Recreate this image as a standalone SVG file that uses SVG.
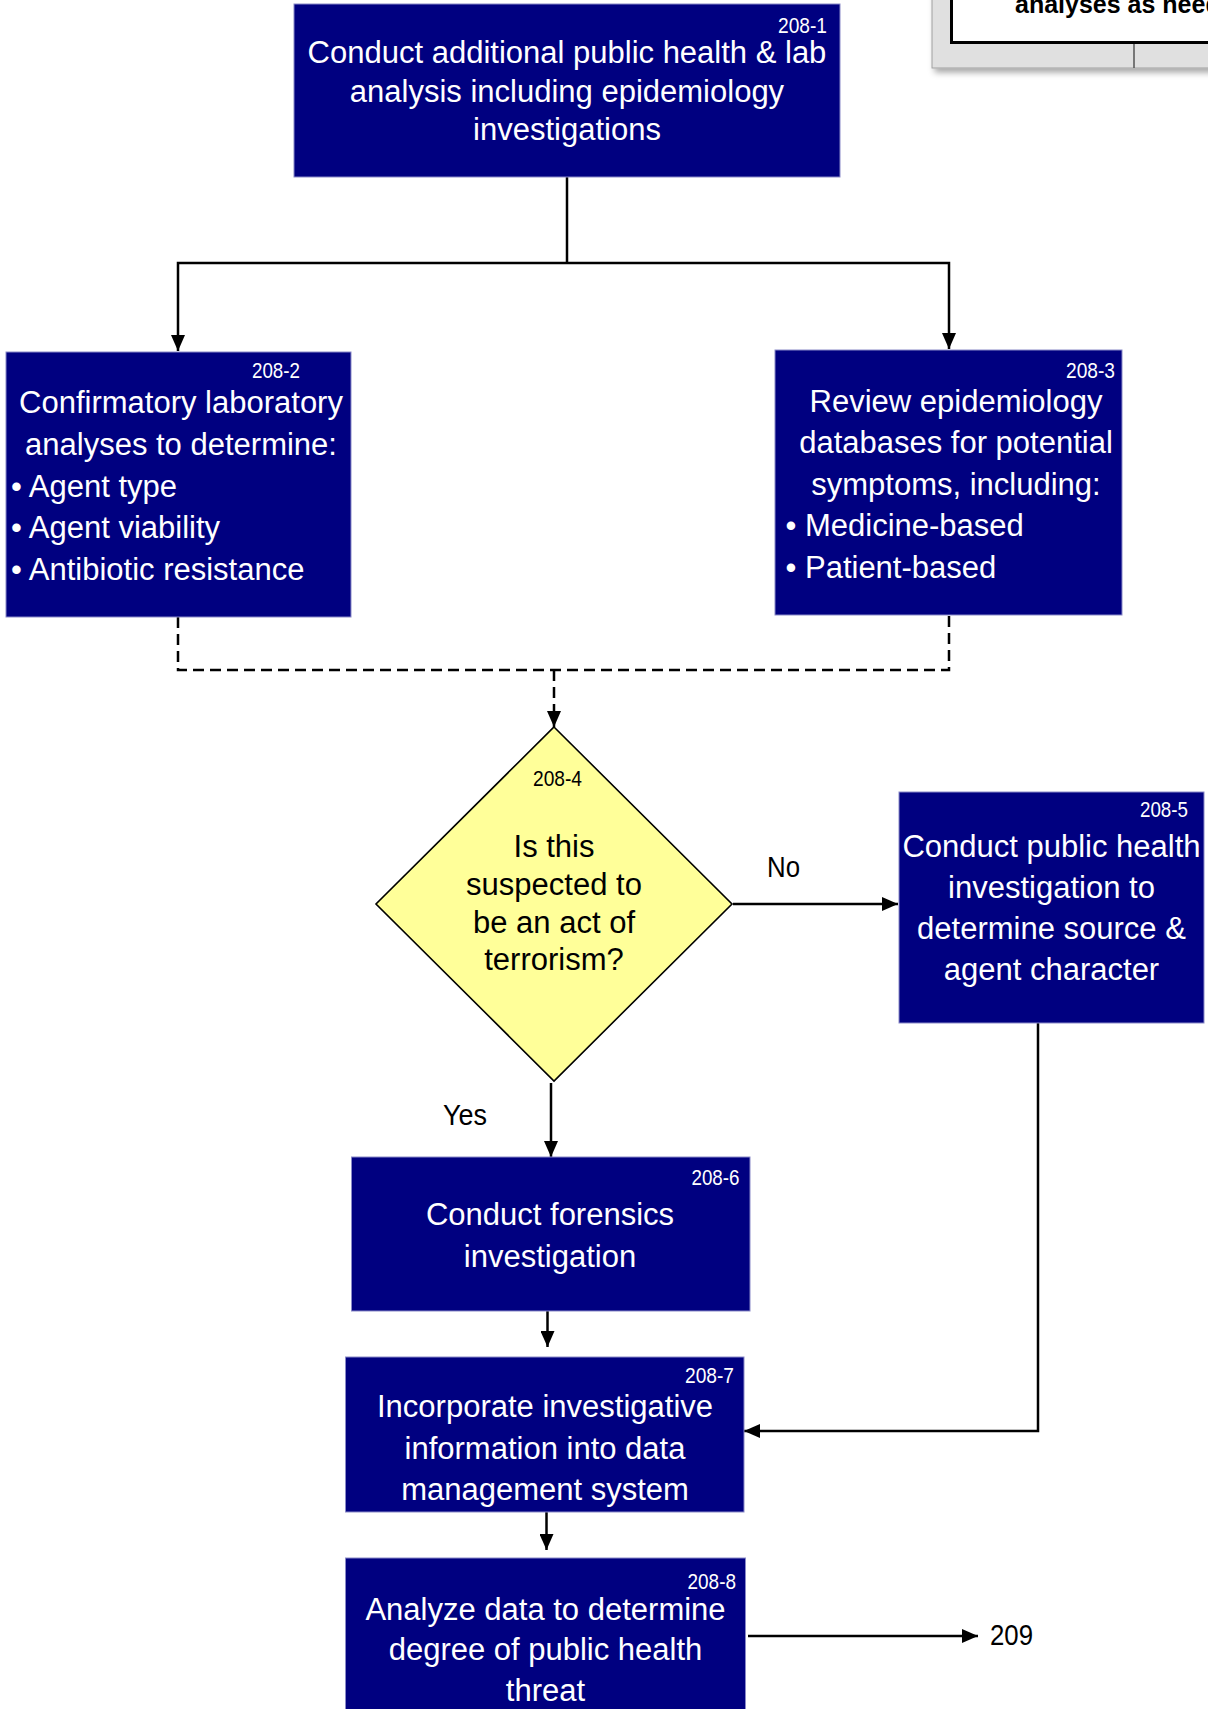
<svg xmlns="http://www.w3.org/2000/svg" width="1208" height="1709" viewBox="0 0 1208 1709">
  <defs>
    <style>
      .box { fill: #000080; stroke: #8a8ac8; stroke-width: 1; }
      .dia { fill: #ffff99; stroke: #000000; stroke-width: 1.6; }
      .t { font-family: "Liberation Sans", Arial, sans-serif; font-size: 31px; fill: #ffffff; }
      .num { font-family: "Liberation Sans Narrow", "Liberation Sans", Arial, sans-serif; font-size: 22px; fill: #ffffff; }
      .lbl { font-family: "Liberation Sans Narrow", "Liberation Sans", Arial, sans-serif; font-size: 30px; fill: #000000; }
      .c { text-anchor: middle; }
      .dark { fill: #000000; }
      .ln { fill: none; stroke: #000000; stroke-width: 2.5; }
      .dash { stroke-dasharray: 11 6; }
    </style>
    <marker id="arrow" markerUnits="userSpaceOnUse" markerWidth="16" markerHeight="14" refX="16" refY="7" orient="auto">
      <path d="M0,0 L16,7 L0,14 Z" fill="#000000"/>
    </marker>
    <filter id="shadow" x="-10%" y="-20%" width="130%" height="160%">
      <feDropShadow dx="3" dy="4" stdDeviation="3" flood-color="#000000" flood-opacity="0.35"/>
    </filter>
  </defs>

  <rect width="1208" height="1709" fill="#ffffff"/>

  <!-- partial panel at the top right edge -->
  <g id="side-panel">
    <rect x="932" y="-20" width="290" height="88" fill="#e0e0e0" stroke="#a0a0a0" stroke-width="1" filter="url(#shadow)"/>
    <rect x="951.5" y="-20" width="270" height="62.5" fill="#ffffff" stroke="#000000" stroke-width="3"/>
    <line x1="1134" y1="44" x2="1134" y2="68" stroke="#555555" stroke-width="1.5"/>
    <text x="1015" y="13" font-family="Liberation Sans, Arial, sans-serif" font-size="25" font-weight="bold" fill="#000000">analyses as needed</text>
  </g>

  <!-- connectors -->
  <g id="connectors">
    <path class="ln" d="M567,177 V263"/>
    <path class="ln" d="M567,263 H178 V351" marker-end="url(#arrow)"/>
    <path class="ln" d="M567,263 H949 V349" marker-end="url(#arrow)"/>
    <path class="ln dash" d="M178,617 V670 H949 V615"/>
    <path class="ln dash" d="M554,670 V727" marker-end="url(#arrow)"/>
    <path class="ln" d="M733,904 H898" marker-end="url(#arrow)"/>
    <path class="ln" d="M551,1083 V1157" marker-end="url(#arrow)"/>
    <path class="ln" d="M547.5,1311 V1347" marker-end="url(#arrow)"/>
    <path class="ln" d="M1038,1023 V1431 H744" marker-end="url(#arrow)"/>
    <path class="ln" d="M546.5,1512 V1550" marker-end="url(#arrow)"/>
    <path class="ln" d="M748,1636 H978" marker-end="url(#arrow)"/>
    <text class="lbl" x="767" y="877" textLength="33" lengthAdjust="spacingAndGlyphs">No</text>
    <text class="lbl" x="443" y="1125" textLength="44" lengthAdjust="spacingAndGlyphs">Yes</text>
    <text class="lbl" x="990" y="1645" textLength="43" lengthAdjust="spacingAndGlyphs">209</text>
  </g>

  <g id="n208-1">
    <rect class="box" x="294" y="4" width="546" height="173"/>
    <text class="num" x="778" y="33" textLength="49" lengthAdjust="spacingAndGlyphs">208-1</text>
    <text class="t c" x="567" y="63">Conduct additional public health &amp; lab</text>
    <text class="t c" x="567" y="101.5">analysis including epidemiology</text>
    <text class="t c" x="567" y="140">investigations</text>
  </g>

  <g id="n208-2">
    <rect class="box" x="6" y="352" width="345" height="265"/>
    <text class="num" x="252" y="378" textLength="48" lengthAdjust="spacingAndGlyphs">208-2</text>
    <text class="t c" x="181" y="413">Confirmatory laboratory</text>
    <text class="t c" x="181" y="455">analyses to determine:</text>
    <text class="t" x="11" y="497">• Agent type</text>
    <text class="t" x="11" y="538">• Agent viability</text>
    <text class="t" x="11" y="580">• Antibiotic resistance</text>
  </g>

  <g id="n208-3">
    <rect class="box" x="775" y="350" width="347" height="265"/>
    <text class="num" x="1066" y="378" textLength="49" lengthAdjust="spacingAndGlyphs">208-3</text>
    <text class="t c" x="956" y="412">Review epidemiology</text>
    <text class="t c" x="956" y="453">databases for potential</text>
    <text class="t c" x="956" y="495">symptoms, including:</text>
    <text class="t" x="785.5" y="536">• Medicine-based</text>
    <text class="t" x="785.5" y="578">• Patient-based</text>
  </g>

  <g id="n208-4">
    <polygon class="dia" points="554,727 732,904 554,1081 376,904"/>
    <text class="num c" x="557.5" y="786" fill="#000000" style="fill:#000000" textLength="49" lengthAdjust="spacingAndGlyphs">208-4</text>
    <text class="t c dark" x="554" y="857" style="fill:#000000">Is this</text>
    <text class="t c dark" x="554" y="895" style="fill:#000000">suspected to</text>
    <text class="t c dark" x="554" y="933" style="fill:#000000">be an act of</text>
    <text class="t c dark" x="554" y="970" style="fill:#000000">terrorism?</text>
  </g>

  <g id="n208-5">
    <rect class="box" x="899" y="792" width="305" height="231"/>
    <text class="num" x="1140" y="817" textLength="48" lengthAdjust="spacingAndGlyphs">208-5</text>
    <text class="t c" x="1051.5" y="857">Conduct public health</text>
    <text class="t c" x="1051.5" y="898">investigation to</text>
    <text class="t c" x="1051.5" y="939">determine source &amp;</text>
    <text class="t c" x="1051.5" y="980">agent character</text>
  </g>

  <g id="n208-6">
    <rect class="box" x="351.5" y="1157" width="398.5" height="154"/>
    <text class="num" x="691.5" y="1185" textLength="48" lengthAdjust="spacingAndGlyphs">208-6</text>
    <text class="t c" x="550" y="1225">Conduct forensics</text>
    <text class="t c" x="550" y="1267">investigation</text>
  </g>

  <g id="n208-7">
    <rect class="box" x="345.5" y="1357" width="398.5" height="155"/>
    <text class="num" x="685" y="1383" textLength="49" lengthAdjust="spacingAndGlyphs">208-7</text>
    <text class="t c" x="545" y="1417">Incorporate investigative</text>
    <text class="t c" x="545" y="1459">information into data</text>
    <text class="t c" x="545" y="1500">management system</text>
  </g>

  <g id="n208-8">
    <rect class="box" x="345.5" y="1558" width="400" height="170"/>
    <text class="num" x="687.5" y="1589" textLength="48.5" lengthAdjust="spacingAndGlyphs">208-8</text>
    <text class="t c" x="545.5" y="1620">Analyze data to determine</text>
    <text class="t c" x="545.5" y="1660">degree of public health</text>
    <text class="t c" x="545.5" y="1701">threat</text>
  </g>
</svg>
